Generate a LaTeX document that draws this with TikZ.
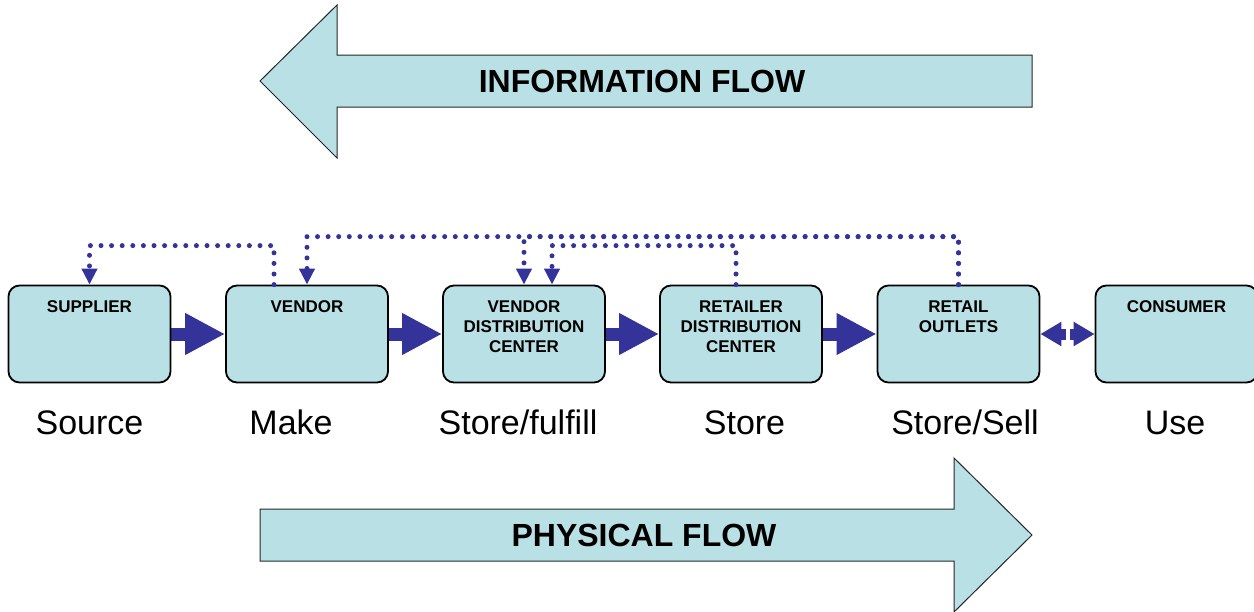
\documentclass[tikz,border=0pt]{standalone}
\usepackage{fontspec}
\setmainfont{Liberation Sans}
\usetikzlibrary{arrows.meta,calc,backgrounds}
\definecolor{boxfill}{RGB}{185,224,228}
\definecolor{flowblue}{RGB}{51,51,153}
\begin{document}
\begin{tikzpicture}[x=1pt,y=-1pt,
  box/.style={draw=black,line width=1.8pt,fill=boxfill,rounded corners=11pt,
    minimum width=162pt,minimum height=97pt,inner sep=0pt},
  boxtext/.style={anchor=north,inner sep=0pt,align=center,
    font=\fontsize{17}{20}\selectfont\bfseries},
  stage/.style={anchor=base,inner sep=0pt,font=\fontsize{34}{40}\selectfont},
  flowtext/.style={inner sep=0pt,font=\fontsize{32}{38}\selectfont\bfseries},
  dotline/.style={flowblue,line width=5pt,line cap=round,dash pattern=on 0pt off 10.6pt},
  dottip/.style={-{Triangle[width=15pt,length=16pt]}},
  thickarrow/.style={flowblue,line width=13pt,-{Triangle[width=39pt,length=40pt]}},
  smallarrow/.style={flowblue,line width=11pt,-{Triangle[width=23pt,length=21pt]}},
  bigarrow/.style={draw=black!85,line width=1pt,fill=boxfill,line join=miter},
  ]
\useasboundingbox (0,0) rectangle (1254,611);

% big flow arrows
\draw[bigarrow] (260,81) -- (337,5) -- (337,55) -- (1032,55) -- (1032,107)
  -- (337,107) -- (337,158) -- cycle;
\node[flowtext] (info) at (642,81.5) {INFORMATION FLOW};
\draw[bigarrow] (260,509) -- (954,509) -- (954,458) -- (1032,535) -- (954,612)
  -- (954,561) -- (260,561) -- cycle;
\node[flowtext] (phys) at (644,535.5) {PHYSICAL FLOW};

% boxes
\node[box] (supplier) at (89.5,334) {};
\node[box] (vendor) at (307,334) {};
\node[box] (vdc) at (524,334) {};
\node[box] (rdc) at (741,334) {};
\node[box] (retail) at (958.5,334) {};
\node[box] (consumer) at (1176.5,334) {};

\node[boxtext] (supplierlbl) at ([yshift=-16pt]supplier.north) {SUPPLIER};
\node[boxtext] (vendorlbl) at ([yshift=-16pt]vendor.north) {VENDOR};
\node[boxtext] (vdclbl) at ([yshift=-16pt]vdc.north) {VENDOR\\DISTRIBUTION\\CENTER};
\node[boxtext] (rdclbl) at ([yshift=-16pt]rdc.north) {RETAILER\\DISTRIBUTION\\CENTER};
\node[boxtext] (retaillbl) at ([yshift=-16pt]retail.north) {RETAIL\\OUTLETS};
\node[boxtext] (consumerlbl) at ([yshift=-16pt]consumer.north) {CONSUMER};

% stage labels
\node[stage] (source) at (89.5,434) {Source};
\node[stage] (make) at (291,434) {Make};
\node[stage] (fulfill) at (518,434) {Store/fulfill};
\node[stage] (store) at (744.5,434) {Store};
\node[stage] (sell) at (965,434) {Store/Sell};
\node[stage] (use) at (1175,434) {Use};

% physical connectors
\begin{scope}[on background layer]
\draw[thickarrow] (supplier.east) -- (vendor.west);
\draw[thickarrow] (vendor.east) -- (vdc.west);
\draw[thickarrow] (vdc.east) -- (rdc.west);
\draw[thickarrow] (rdc.east) -- (retail.west);
\coordinate (mid) at ($(retail.east)!0.5!(consumer.west)$);
\draw[smallarrow] ([xshift=-2pt]mid) -- (retail.east);
\draw[smallarrow] ([xshift=2pt]mid) -- (consumer.west);
\end{scope}

% information connectors
\draw[dotline,dottip] ([xshift=-33pt]vendor.north) -- ++(0,-39) -| (supplier.north);
\draw[dotline,dottip] (retail.north) -- ++(0,-48) -| (vendor.north);
\draw[dotline,dottip] (retail.north) -- ++(0,-48) -| (vdc.north);
\draw[dotline,dottip] ([xshift=-5pt]rdc.north) -- ++(0,-39) -| ([xshift=28pt]vdc.north);
\end{tikzpicture}
\end{document}
